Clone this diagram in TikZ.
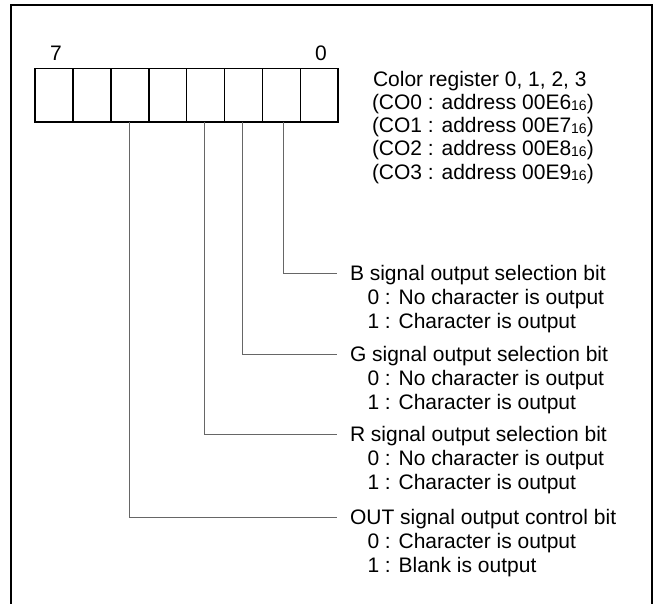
\documentclass[tikz,border=0pt]{standalone}
\usepackage{fontspec}
\setmainfont{Liberation Sans}
\newcommand{\hexsub}{\raisebox{-1pt}{\fontsize{14}{14}\selectfont 16}}
\begin{document}
\begin{tikzpicture}[x=1pt,y=-1pt,
  txt/.style={font=\fontsize{21}{24}\selectfont, inner sep=0pt, outer sep=0pt, anchor=base west},
  cell/.style={draw, line width=1.6pt, minimum width=37.9pt, minimum height=53.4pt, inner sep=0pt, outer sep=0pt},
  conn/.style={draw=black!60, line width=1pt},
  frame/.style={line width=2pt}]
\useasboundingbox (0,0) rectangle (656,603);
% frame
\draw[frame] (11,604) -- (11,5.3) -- (651.7,5.3) -- (651.7,604);
% register cells, bit 7 at left
\foreach \i in {0,...,7} {
  \node[cell] (b\i) at ({35+37.9*(7-\i)+18.95},95) {};
}
\node[txt, anchor=base] (n7) at (56,60) {7};
\node[txt, anchor=base] (n0) at (321,60) {0};
% register description
\node[txt] (c0) at (373,86) {Color register 0, 1, 2, 3};
\node[txt] (c1) at (372,109.3) {(CO0 : address 00E6\hexsub)};
\node[txt] (c2) at (372,132.6) {(CO1 : address 00E7\hexsub)};
\node[txt] (c3) at (372,155.9) {(CO2 : address 00E8\hexsub)};
\node[txt] (c4) at (372,179.2) {(CO3 : address 00E9\hexsub)};
% bit descriptions
\node[txt] (tB) at (350,280) {B signal output selection bit};
\node[txt] (tB0) at (367.5,304) {0 : No character is output};
\node[txt] (tB1) at (367.5,328) {1 : Character is output};
\node[txt] (tG) at (350,361) {G signal output selection bit};
\node[txt] (tG0) at (367.5,385) {0 : No character is output};
\node[txt] (tG1) at (367.5,409) {1 : Character is output};
\node[txt] (tR) at (350,441) {R signal output selection bit};
\node[txt] (tR0) at (367.5,465) {0 : No character is output};
\node[txt] (tR1) at (367.5,489) {1 : Character is output};
\node[txt] (tO) at (350,524.5) {OUT signal output control bit};
\node[txt] (tO0) at (367.5,548.5) {0 : Character is output};
\node[txt] (tO1) at (367.5,572.5) {1 : Blank is output};
% connector ends
\coordinate (eB) at (337,273);
\coordinate (eG) at (337,354);
\coordinate (eR) at (337,434);
\coordinate (eO) at (337,517.5);
\draw[conn] ([xshift=2.6pt]b1.south) |- (eB);
\draw[conn] ([xshift=-0.7pt]b2.south) |- (eG);
\draw[conn] ([xshift=-1.5pt]b3.south) |- (eR);
\draw[conn] ([xshift=-0.4pt]b5.south) |- (eO);
\end{tikzpicture}
\end{document}
